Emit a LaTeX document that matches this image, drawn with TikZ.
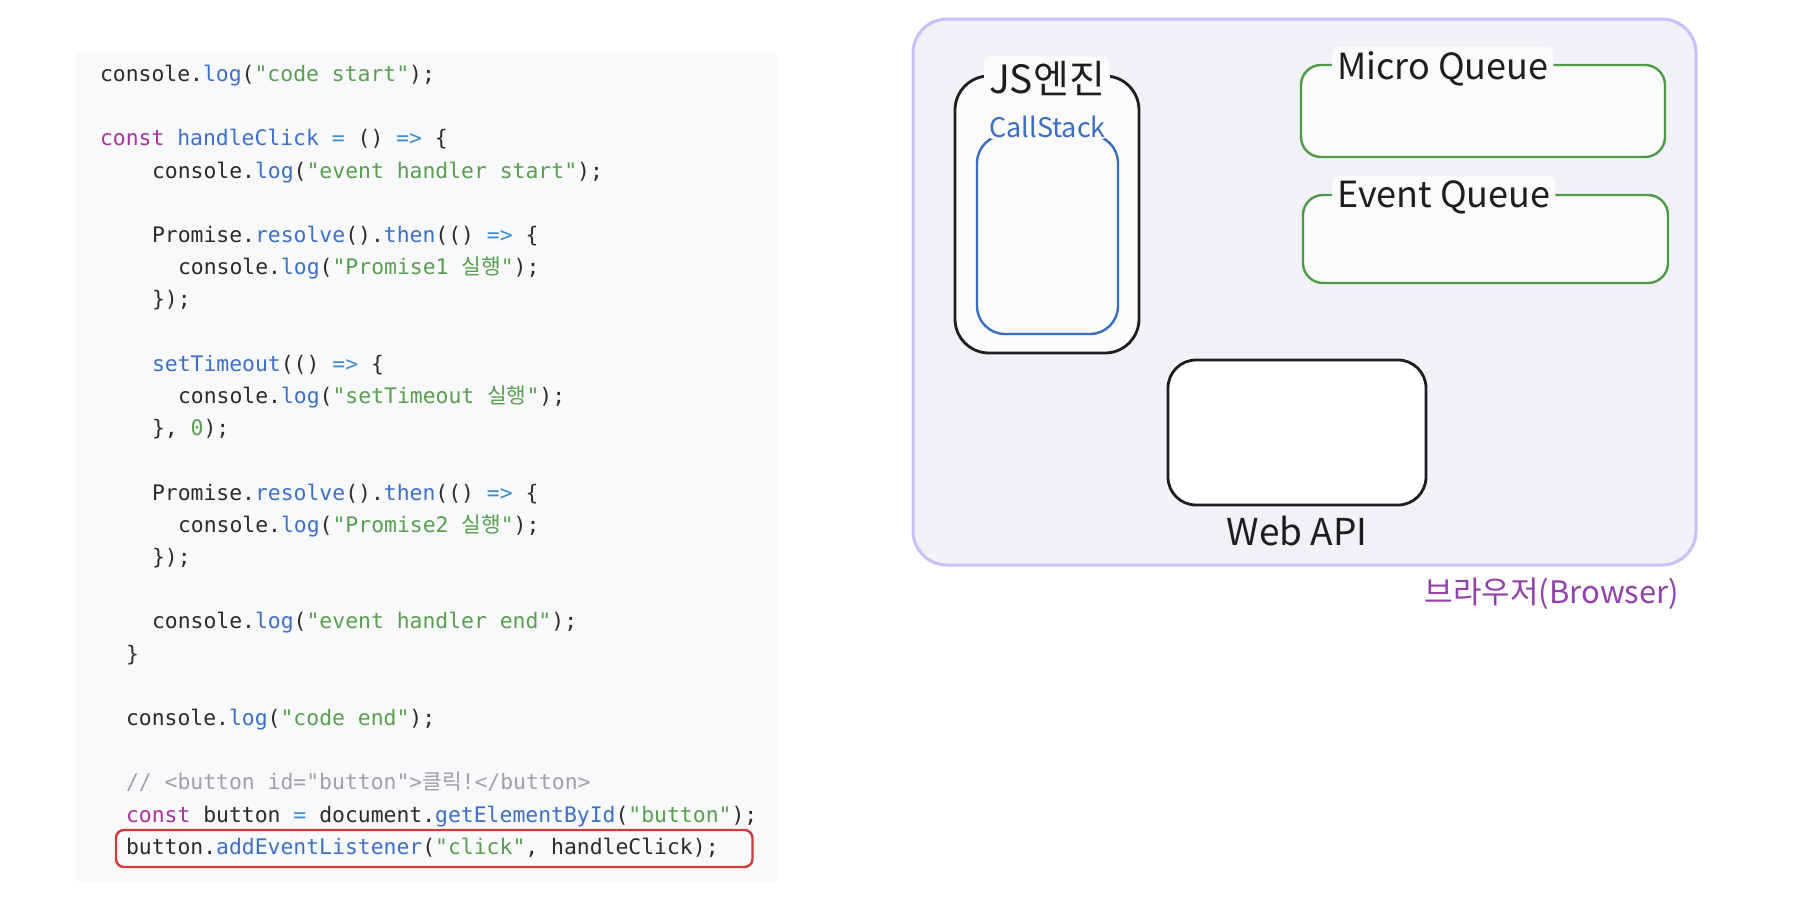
\documentclass[tikz,border=0pt]{standalone}
\usepackage{fontspec}
\usetikzlibrary{positioning}
\setmonofont{DejaVu Sans Mono}
\newfontfamily\kofont{Noto Sans CJK KR}

\definecolor{panelbg}{HTML}{F8F9FB}
\definecolor{codeink}{HTML}{2B2B2B}
\definecolor{fnblue}{HTML}{3E6FC7}
\definecolor{kwpurple}{HTML}{A8329F}
\definecolor{strgreen}{HTML}{5A9E4F}
\definecolor{opblue}{HTML}{3D8CCC}
\definecolor{cmtgray}{HTML}{A0A1A7}
\definecolor{clickred}{HTML}{D03A38}
\definecolor{browserbg}{HTML}{F3F1F8}
\definecolor{browserline}{HTML}{C8C0F8}
\definecolor{browserink}{HTML}{9141AC}
\definecolor{boxfill}{HTML}{FBFBFC}
\definecolor{boxink}{HTML}{1E1E1E}
\definecolor{stackblue}{HTML}{3A6FBF}
\definecolor{queuegreen}{HTML}{4F9A48}

\newcommand{\jsfn}[1]{\textcolor{fnblue}{#1}}
\newcommand{\jskw}[1]{\textcolor{kwpurple}{#1}}
\newcommand{\jsstr}[1]{\textcolor{strgreen}{#1}}
\newcommand{\jsop}[1]{\textcolor{opblue}{#1}}
\newcommand{\jscmt}[1]{\textcolor{cmtgray}{#1}}

\begin{document}
\begin{tikzpicture}[
    x=0.5pt, y=-0.5pt,
    panel/.style={rectangle, fill=panelbg, rounded corners=2pt, inner sep=0pt,
                  minimum width=350.5pt, minimum height=415pt},
    code/.style={anchor=base west, inner sep=0pt, text=codeink,
                 font=\ttfamily\fontsize{10.7}{13}\selectfont},
    clickmark/.style={draw=clickred, line width=1.2pt, rounded corners=4pt},
    browser/.style={rectangle, draw=browserline, fill=browserbg, line width=1.5pt,
                    rounded corners=17pt, inner sep=0pt,
                    minimum width=391.5pt, minimum height=273pt},
    box/.style={rectangle, draw=boxink, fill=boxfill, line width=1.4pt, inner sep=0pt},
    tag/.style={fill=boxfill, inner sep=2.5pt, rounded corners=4pt, text=boxink,
                font=\kofont\fontsize{18}{18}\selectfont}
]
\useasboundingbox (0,0) rectangle (1796,896);

% code listing
\node[panel] (codepanel) at (426.5,467) {};

\node[code] (logstart)     at (99.6,81.5)  {console.\jsfn{log}(\jsstr{"code start"});};
\node[code] (handler)      at (99.6,145.9) {\jskw{const} \jsfn{handleClick} \jsop{=} () \jsop{=>} \{};
\node[code] (logenter)     at (151.6,178.1) {console.\jsfn{log}(\jsstr{"event handler start"});};
\node[code] (promiseA)     at (151.6,242.5) {Promise.\jsfn{resolve}().\jsfn{then}(() \jsop{=>} \{};
\node[code] (logpromiseA)  at (177.6,274.7) {console.\jsfn{log}(\jsstr{"Promise1 {\kofont 실행}"});};
\node[code] (closeA)       at (151.6,306.9) {\});};
\node[code] (timer)        at (151.6,371.3) {\jsfn{setTimeout}(() \jsop{=>} \{};
\node[code] (logtimer)     at (177.6,403.5) {console.\jsfn{log}(\jsstr{"setTimeout {\kofont 실행}"});};
\node[code] (closetimer)   at (151.6,435.7) {\}, \jsstr{0});};
\node[code] (promiseB)     at (151.6,500.1) {Promise.\jsfn{resolve}().\jsfn{then}(() \jsop{=>} \{};
\node[code] (logpromiseB)  at (177.6,532.3) {console.\jsfn{log}(\jsstr{"Promise2 {\kofont 실행}"});};
\node[code] (closeB)       at (151.6,564.5) {\});};
\node[code] (logexit)      at (151.6,628.9) {console.\jsfn{log}(\jsstr{"event handler end"});};
\node[code] (closehandler) at (125.6,661.1) {\}};
\node[code] (logend)       at (125.6,725.5) {console.\jsfn{log}(\jsstr{"code end"});};
\node[code] (comment)      at (125.6,789.9) {\jscmt{// <button id="button">{\kofont 클릭}!</button>}};
\node[code] (getbutton)    at (125.6,822.1) {\jskw{const} button \jsop{=} document.\jsfn{getElementById}(\jsstr{"button"});};
\node[code] (listen)       at (125.6,854.3) {button.\jsfn{addEventListener}(\jsstr{"click"}, handleClick);};

\draw[clickmark] (116,830) rectangle (752.5,867);

% browser runtime
\node[browser] (browser) at (1304.5,292) {};

\node[box, minimum width=92pt, minimum height=138.5pt, rounded corners=17pt]
    (jsengine) at (1047,214.5) {};
\node[box, draw=stackblue, line width=1.2pt, minimum width=70.5pt, minimum height=99.5pt,
      rounded corners=14pt] (callstack) at (1047.5,234.5) {};
\node[box, draw=queuegreen, line width=1.2pt, minimum width=182pt, minimum height=46pt,
      rounded corners=10pt] (microq) at (1483,111) {};
\node[box, draw=queuegreen, line width=1.2pt, minimum width=182.5pt, minimum height=44pt,
      rounded corners=10pt] (eventq) at (1485.5,239) {};
\node[box, fill=white, minimum width=129pt, minimum height=72.5pt, rounded corners=14pt]
    (webapi) at (1297,432.5) {};

\node[tag, font=\kofont\fontsize{19.5}{19.5}\selectfont]
    (enginetag) at ([yshift=-2pt]jsengine.north) {JS엔진};
\node[tag, text=stackblue, font=\kofont\fontsize{13.5}{13.5}\selectfont, inner sep=1pt]
    (stacktag) at ([yshift=3.5pt]callstack.north) {CallStack};
\node[tag, anchor=west] (microtag) at ([xshift=16pt, yshift=-2.5pt]microq.north west) {Micro Queue};
\node[tag, anchor=west] (eventtag) at ([xshift=15pt, yshift=-2pt]eventq.north west) {Event Queue};
\node[text=boxink, font=\kofont\fontsize{18.5}{18.5}\selectfont]
    (webtag) at ([yshift=-12.5pt]webapi.south) {Web API};
\node[text=browserink, inner sep=0pt, font=\kofont\fontsize{15.5}{15.5}\selectfont,
      below left=5.5pt and 9pt of browser.south east] (browsertag) {브라우저(Browser)};

\end{tikzpicture}
\end{document}
